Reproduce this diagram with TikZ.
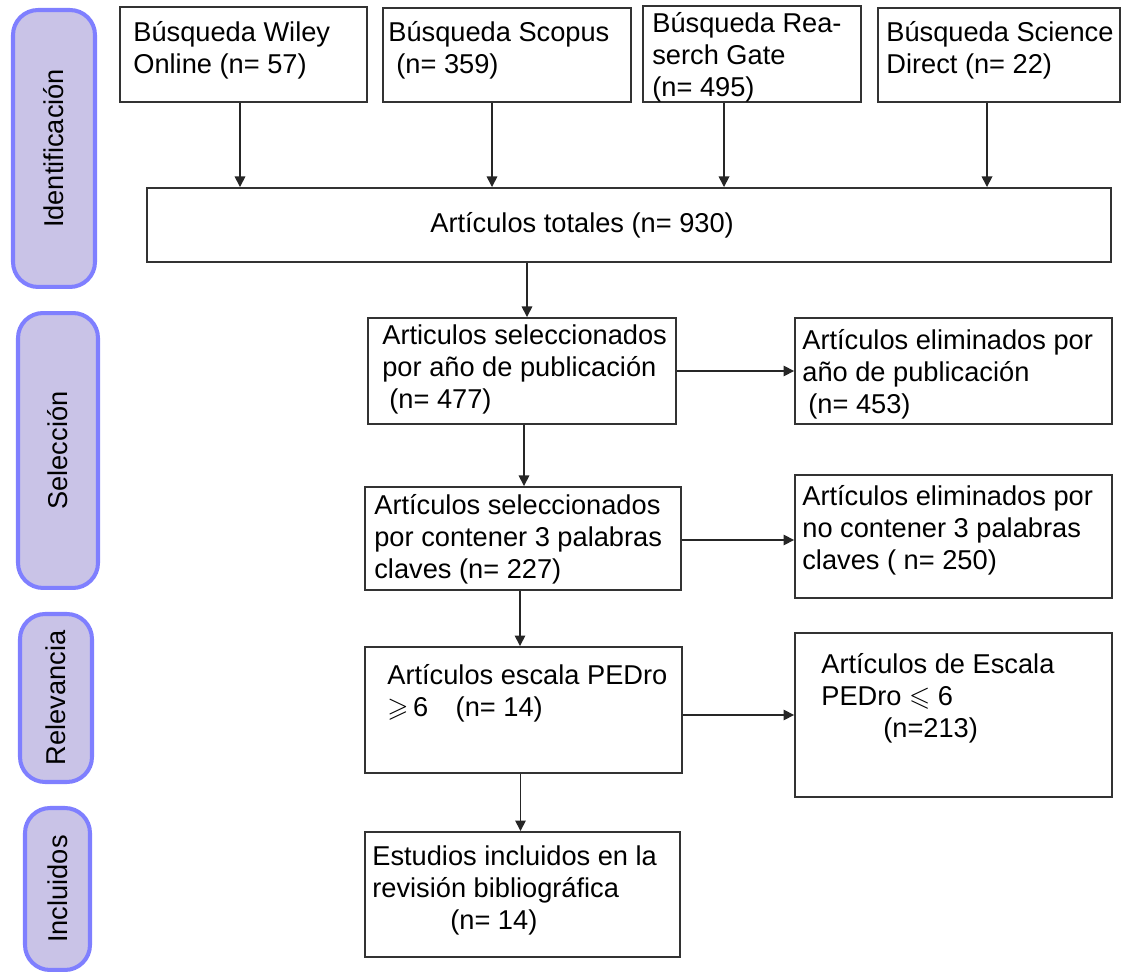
\documentclass[tikz,border=0pt]{standalone}
\usepackage{amssymb}
\usepackage{fontspec}
\setmainfont{Liberation Sans}
\usetikzlibrary{positioning, arrows.meta}

\definecolor{bordefase}{HTML}{7F7FFF}
\definecolor{rellenofase}{HTML}{C9C3E7}
\definecolor{bordecaja}{HTML}{333333}

\begin{document}
\begin{tikzpicture}[x=0.02cm, y=-0.02cm,
        >={Triangle[length=6pt, width=6pt]},
        caja/.style={shape = rectangle, draw = bordecaja, line width = 1.1pt, inner sep = 0pt},
        texto/.style={anchor = west, align = left, inner sep = 0pt,
                font = \fontsize{15.5}{18.2}\selectfont},
        fase/.style={shape = rectangle, draw = bordefase, fill = rellenofase, line width = 2.3pt,
                rounded corners = 0.5cm, rotate = 90, inner sep = 0pt,
                font = \fontsize{15.5}{18.2}\selectfont},
        flecha/.style={->, draw = black!85, line width = 0.9pt}]
    \useasboundingbox (0, 0) rectangle (1129, 972);

    % fases
    \node [fase, minimum width = 5.54cm, minimum height = 1.64cm] (ident) at (54, 148.5) {Identificación};
    \node [fase, minimum width = 5.50cm, minimum height = 1.60cm] (selec) at (58, 450.5) {Selección};
    \node [fase, minimum width = 3.36cm, minimum height = 1.44cm] (relev) at (56, 698) {Relevancia};
    \node [fase, minimum width = 3.24cm, minimum height = 1.30cm] (inclu) at (57.5, 889) {Incluidos};

    % cajas
    \node [caja, minimum width = 4.94cm, minimum height = 1.90cm] (wiley) at (243.5, 54.5) {};
    \node [caja, minimum width = 4.96cm, minimum height = 1.88cm] (scopus) at (507, 55) {};
    \node [caja, minimum width = 4.36cm, minimum height = 1.92cm] (rgate) at (752, 54) {};
    \node [caja, minimum width = 4.84cm, minimum height = 1.88cm] (sdirect) at (999, 55) {};
    \node [caja, minimum width = 19.28cm, minimum height = 1.48cm] (total) at (629, 225) {};
    \node [caja, minimum width = 6.16cm, minimum height = 2.12cm] (sel1) at (522, 371) {};
    \node [caja, minimum width = 6.34cm, minimum height = 2.12cm] (elim1) at (953.5, 371) {};
    \node [caja, minimum width = 6.32cm, minimum height = 2.06cm] (sel2) at (523, 538.5) {};
    \node [caja, minimum width = 6.34cm, minimum height = 2.46cm] (elim2) at (953.5, 536.5) {};
    \node [caja, minimum width = 6.34cm, minimum height = 2.52cm] (pedro) at (523.5, 710) {};
    \node [caja, minimum width = 6.34cm, minimum height = 3.28cm] (elim3) at (953.5, 715) {};
    \node [caja, minimum width = 6.30cm, minimum height = 2.50cm] (incl) at (522.5, 894.5) {};

    % textos
    \node [texto] (wileyT) at (133, 50.5) {Búsqueda Wiley\\Online (n= 57)};
    \node [texto] (scopusT) at (388, 50.5) {Búsqueda Scopus\\\hspace*{0.16cm}(n= 359)};
    \node [texto] (rgateT) at (652, 57) {Búsqueda Rea-\\serch Gate\\(n= 495)};
    \node [texto] (sdirectT) at (886, 50.5) {Búsqueda Science\\Direct (n= 22)};
    \node [texto] (totalT) at (430, 225) {Artículos totales (n= 930)};
    \node [texto] (sel1T) at (382, 369) {Articulos seleccionados\\por año de publicación\\\hspace*{0.14cm}(n= 477)};
    \node [texto] (elim1T) at (802, 374) {Artículos eliminados por\\año de publicación\\\hspace*{0.12cm}(n= 453)};
    \node [texto] (sel2T) at (374, 539) {Artículos seleccionados\\por contener 3 palabras\\claves (n= 227)};
    \node [texto] (elim2T) at (802, 530) {Artículos eliminados por\\no contener 3 palabras\\claves ( n= 250)};
    \node [texto] (pedroT) at (387, 693) {Artículos escala PEDro\\$\geqslant$\,6\hspace*{0.55cm}(n= 14)};
    \node [texto] (elim3T) at (821, 698.5) {Artículos de Escala\\PEDro $\leqslant$ 6\\\hspace*{1.24cm}(n=213)};
    \node [texto] (inclT) at (372, 890) {Estudios incluidos en la\\revisión bibliográfica\\\hspace*{1.56cm}(n= 14)};

    % flechas
    \draw [flecha] ([xshift=-0.07cm]wiley.south) -- ([xshift=-0.07cm]wiley.south |- total.north);
    \draw [flecha] ([xshift=-0.30cm]scopus.south) -- ([xshift=-0.30cm]scopus.south |- total.north);
    \draw [flecha] ([xshift=-0.56cm]rgate.south) -- ([xshift=-0.56cm]rgate.south |- total.north);
    \draw [flecha] ([xshift=-0.24cm]sdirect.south) -- ([xshift=-0.24cm]sdirect.south |- total.north);
    \draw [flecha] ([xshift=0.1cm]sel1.north |- total.south) -- ([xshift=0.1cm]sel1.north);
    \draw [flecha] ([xshift=0.04cm]sel1.south) -- ([xshift=0.04cm]sel1.south |- sel2.north);
    \draw [flecha] (sel1.east) -- (elim1.west);
    \draw [flecha] ([xshift=-0.06cm]sel2.south) -- ([xshift=-0.06cm]sel2.south |- pedro.north);
    \draw [flecha] ([yshift=-0.03cm]sel2.east) -- ([yshift=-0.03cm]sel2.east -| elim2.west);
    \draw [flecha] ([xshift=-0.06cm]pedro.south) -- ([xshift=-0.06cm]pedro.south |- incl.north);
    \draw [flecha] (pedro.east |- elim3.west) -- (elim3.west);
\end{tikzpicture}
\end{document}
